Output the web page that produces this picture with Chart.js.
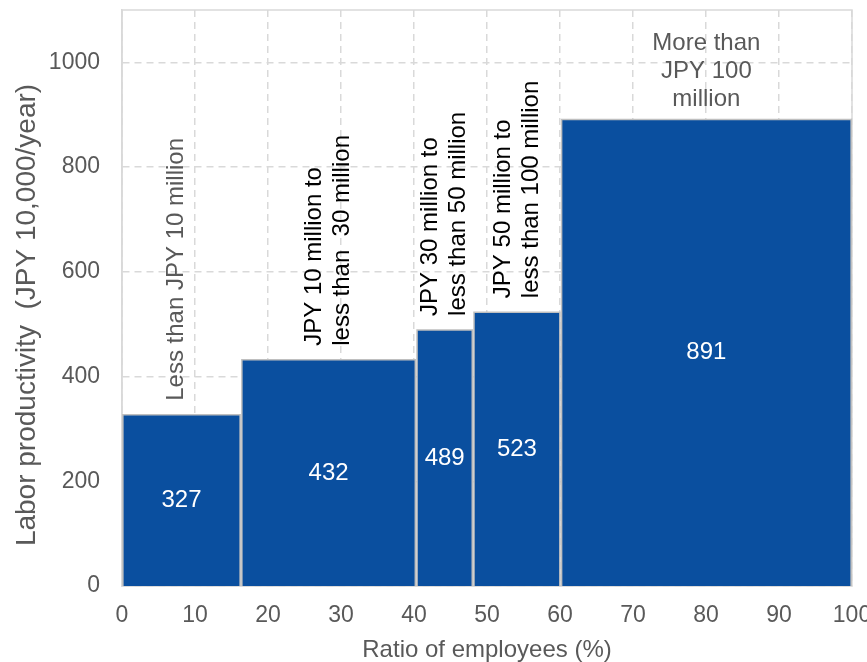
<!DOCTYPE html>
<html>
<head>
<meta charset="utf-8">
<title>Labor productivity by capital size</title>
<script src="https://cdn.jsdelivr.net/npm/chart.js@4"></script>
<style>
  body { margin: 0; background: #fff; }
  #chart { display: block; }
</style>
</head>
<body>
<canvas id="chart" width="867" height="662"></canvas>
<script>
// capital size groups, share of employees (%) and labor productivity
const segments = [
  ["Less than JPY 10 million"],
  ["JPY 10 million to", "less than  30 million"],
  ["JPY 30 million to", "less than 50 million"],
  ["JPY 50 million to", "less than 100 million"],
  ["More than", "JPY 100", "million"],
];
const employeeShare = [16.3, 24.0, 7.8, 12.0, 39.9];
const productivity = [327, 432, 489, 523, 891];
const xTicks = [0, 10, 20, 30, 40, 50, 60, 70, 80, 90, 100];
const yTicks = [0, 200, 400, 600, 800, 1000];

const FONT = "'Liberation Sans', Arial, sans-serif";
const BAR_BLUE = "#0a4f9f";
const BAR_EDGE = "#bfbfbf";
const GRID = "#d9d9d9";
const TEXT_GREY = "#595959";
const GAP = 0.12; // small gap between neighbouring columns, in x units

// left edge of each column from the cumulative share
const starts = [];
let acc = 0;
employeeShare.forEach((w) => {
  starts.push(acc);
  acc += w;
});

const datasets = productivity.map((v, i) => {
  const x0 = starts[i] + GAP;
  const x1 = starts[i] + employeeShare[i] - GAP;
  return {
    data: [
      { x: x0, y: 0 },
      { x: x0, y: v },
      { x: x1, y: v },
      { x: x1, y: 0 },
    ],
    fill: "origin",
    backgroundColor: BAR_BLUE,
    borderColor: BAR_EDGE,
    borderWidth: 1.5,
    pointRadius: 0,
    tension: 0,
  };
});

// scales should not push the plot area in for their edge labels
function noEdgePadding(s) {
  s.paddingTop = 0;
  s.paddingBottom = 0;
  s.paddingLeft = 0;
  s.paddingRight = 0;
}

// light frame round the plot area
const frame = {
  id: "frame",
  beforeDatasetsDraw(chart) {
    const { ctx, chartArea: a } = chart;
    ctx.save();
    ctx.strokeStyle = GRID;
    ctx.lineWidth = 1.5;
    ctx.strokeRect(a.left, a.top, a.right - a.left, a.bottom - a.top);
    ctx.restore();
  },
};

// values inside the columns, group names above them, y title
const labels = {
  id: "labels",
  afterDatasetsDraw(chart) {
    const { ctx, scales } = chart;
    const x = scales.x;
    const y = scales.y;
    const lineH = 28;
    ctx.save();
    productivity.forEach((v, i) => {
      const cx = x.getPixelForValue(starts[i] + employeeShare[i] / 2);

      ctx.fillStyle = "#ffffff";
      ctx.font = "24px " + FONT;
      ctx.textAlign = "center";
      ctx.textBaseline = "middle";
      ctx.fillText(String(v), cx, y.getPixelForValue(v / 2));

      const top = y.getPixelForValue(v);
      const lines = segments[i];
      if (i === segments.length - 1) {
        ctx.fillStyle = TEXT_GREY;
        ctx.textAlign = "center";
        lines.forEach((t, k) => {
          ctx.fillText(t, cx, top - 20 - (lines.length - 1 - k) * lineH);
        });
      } else {
        ctx.fillStyle = i === 0 ? TEXT_GREY : "#000000";
        ctx.save();
        ctx.translate(i === 0 ? cx - 5 : cx, top - 14);
        ctx.rotate(-Math.PI / 2);
        ctx.textAlign = "left";
        lines.forEach((t, k) => {
          ctx.fillText(t, 0, (k - (lines.length - 1) / 2) * lineH);
        });
        ctx.restore();
      }
    });

    ctx.translate(27, 315);
    ctx.rotate(-Math.PI / 2);
    ctx.fillStyle = TEXT_GREY;
    ctx.font = "28px " + FONT;
    ctx.textAlign = "center";
    ctx.textBaseline = "middle";
    ctx.fillText("Labor productivity  (JPY 10,000/year)", 0, 0);
    ctx.restore();
  },
};

new Chart(document.getElementById("chart"), {
  type: "line",
  data: { datasets },
  options: {
    responsive: false,
    animation: false,
    devicePixelRatio: 1,
    layout: { padding: { top: 10, right: 15, left: 0, bottom: 0 } },
    plugins: {
      legend: { display: false },
      tooltip: { enabled: false },
    },
    scales: {
      x: {
        type: "linear",
        min: 0,
        max: 100,
        afterBuildTicks: (s) => {
          s.ticks = xTicks.map((v) => ({ value: v }));
        },
        afterFit: (s) => {
          s.height = 76;
          noEdgePadding(s);
        },
        ticks: {
          color: TEXT_GREY,
          font: { family: FONT, size: 23 },
          padding: 16,
          maxRotation: 0,
          callback: (v) => String(v),
        },
        grid: { color: GRID, lineWidth: 1.5, drawTicks: false },
        border: { display: true, color: GRID, width: 1.5, dash: [7, 5] },
        title: {
          display: true,
          text: "Ratio of employees (%)",
          color: TEXT_GREY,
          font: { family: FONT, size: 24, lineHeight: 1 },
          padding: 0,
        },
      },
      y: {
        min: 0,
        max: 1100,
        afterBuildTicks: (s) => {
          s.ticks = yTicks.map((v) => ({ value: v }));
        },
        afterFit: (s) => {
          s.width = 122;
          noEdgePadding(s);
        },
        ticks: {
          color: TEXT_GREY,
          font: { family: FONT, size: 23 },
          padding: 22,
          callback: (v) => String(v),
        },
        grid: { color: GRID, lineWidth: 1.5, drawTicks: false },
        border: { display: true, color: GRID, width: 1.5, dash: [7, 5] },
      },
    },
  },
  plugins: [frame, labels],
});
</script>
</body>
</html>
